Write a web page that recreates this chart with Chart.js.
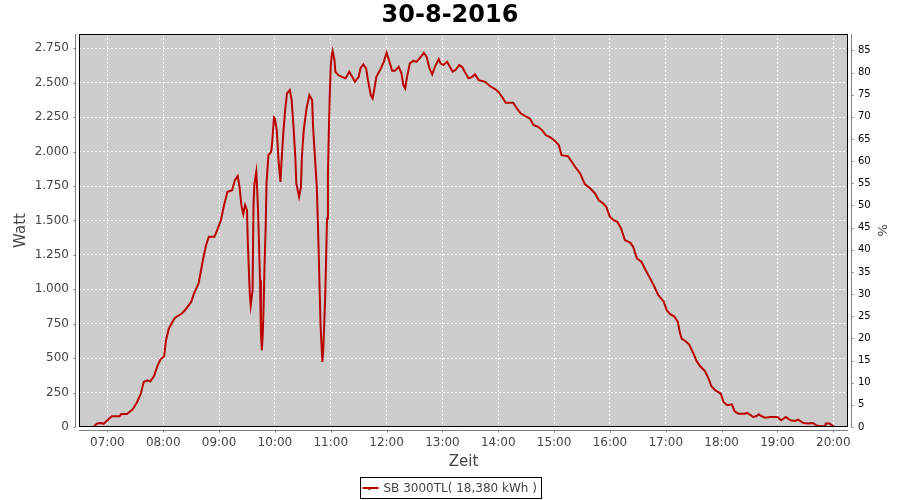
<!DOCTYPE html>
<html>
<head>
<meta charset="utf-8">
<title>30-8-2016</title>
<script src="https://cdn.jsdelivr.net/npm/chart.js@4.4.0/dist/chart.umd.min.js"></script>
<style>
  html, body { margin: 0; padding: 0; background: #fff; }
</style>
</head>
<body>
<canvas id="ertragChart" width="900" height="500"></canvas>
<script>
// Messwerte vom 30-8-2016 (Zeit / Leistung in Watt)
const zeiten = [
  '06:45','06:49','06:53','06:56','07:02','07:05','07:13','07:15','07:21','07:27',
  '07:32','07:36','07:39','07:43','07:46','07:50','07:54','07:57','08:01','08:03',
  '08:06','08:12','08:15','08:20','08:24','08:30','08:33','08:38','08:40','08:43',
  '08:46','08:49','08:55','08:58','09:02','09:05','09:09','09:14','09:17','09:20',
  '09:22','09:24','09:26','09:28','09:30','09:31','09:33','09:34','09:36','09:37',
  '09:38','09:40','09:41','09:42','09:44','09:45','09:46','09:47','09:48','09:49',
  '09:50','09:51','09:53','09:56','09:57','09:59','10:00','10:02','10:04','10:06',
  '10:07','10:09','10:11','10:13','10:16','10:18','10:20','10:22','10:23','10:26',
  '10:28','10:29','10:31','10:34','10:37','10:40','10:41','10:43','10:45','10:46',
  '10:47','10:48','10:49','10:50','10:51','10:52','10:53','10:54','10:55','10:56',
  '10:57','10:58','10:59','11:00','11:01','11:02','11:04','11:05','11:08','11:12',
  '11:16','11:20','11:23','11:26','11:30','11:32','11:35','11:38','11:40','11:43',
  '11:45','11:47','11:49','11:53','11:57','12:00','12:02','12:06','12:09','12:13',
  '12:16','12:18','12:20','12:22','12:25','12:29','12:32','12:37','12:40','12:43',
  '12:46','12:49','12:52','12:56','12:58','13:01','13:05','13:08','13:11','13:14',
  '13:18','13:21','13:25','13:28','13:32','13:35','13:39','13:46','13:51','13:57',
  '14:00','14:04','14:08','14:16','14:20','14:24','14:29','14:34','14:38','14:43',
  '14:47','14:51','14:56','15:00','15:05','15:08','15:15','15:19','15:23','15:28',
  '15:33','15:39','15:44','15:48','15:52','15:56','16:00','16:04','16:08','16:12',
  '16:16','16:22','16:25','16:29','16:34','16:38','16:42','16:47','16:52','16:58',
  '17:01','17:05','17:09','17:13','17:15','17:17','17:21','17:25','17:29','17:33',
  '17:37','17:42','17:46','17:49','17:54','17:59','18:02','18:06','18:11','18:14',
  '18:18','18:25','18:27','18:30','18:34','18:37','18:40','18:43','18:47','18:52',
  '19:00','19:04','19:09','19:14','19:19','19:22','19:28','19:33','19:38','19:42',
  '19:46','19:51','19:52','19:56','20:00','20:01'
];
const leistung = [
  0, 25, 29, 23, 61, 78, 78, 94, 94, 126,
  182, 243, 327, 339, 330, 368, 448, 490, 514, 630,
  715, 788, 804, 824, 853, 908, 969, 1042, 1115, 1224,
  1320, 1381, 1381, 1430, 1502, 1599, 1708, 1720, 1793, 1822,
  1744, 1611, 1546, 1611, 1575, 1320, 969, 884, 993, 1611,
  1769, 1853, 1720, 1551, 1066, 679, 557, 679, 908, 1211,
  1430, 1769, 1974, 1998, 2059, 2248, 2240, 2156, 1926, 1780,
  1914, 2132, 2301, 2423, 2447, 2374, 2180, 1950, 1769, 1671,
  1744, 1962, 2156, 2314, 2410, 2374, 2180, 1962, 1744, 1526,
  1284, 1017, 751, 606, 472, 557, 751, 945, 1211, 1514,
  1841, 2156, 2423, 2616, 2701, 2732, 2665, 2580, 2556, 2543,
  2532, 2580, 2543, 2507, 2543, 2605, 2633, 2605, 2519, 2410,
  2386, 2459, 2543, 2592, 2652, 2718, 2677, 2587, 2587, 2616,
  2568, 2483, 2459, 2543, 2641, 2660, 2652, 2689, 2718, 2689,
  2605, 2561, 2616, 2672, 2641, 2628, 2652, 2616, 2580, 2592,
  2628, 2616, 2568, 2532, 2543, 2561, 2519, 2507, 2476, 2452,
  2435, 2398, 2355, 2355, 2314, 2278, 2258, 2241, 2192, 2180,
  2156, 2120, 2103, 2083, 2047, 1974, 1967, 1926, 1885, 1841,
  1764, 1732, 1696, 1647, 1628, 1599, 1526, 1502, 1490, 1442,
  1357, 1337, 1308, 1224, 1199, 1144, 1095, 1030, 957, 908,
  848, 817, 804, 763, 690, 642, 625, 601, 545, 480,
  441, 407, 352, 296, 262, 243, 182, 158, 165, 114,
  97, 97, 102, 92, 73, 78, 92, 78, 68, 73,
  73, 49, 73, 49, 44, 54, 29, 25, 29, 12,
  5, 5, 25, 25, 5, 0
];
const stunden = [7, 8, 9, 10, 11, 12, 13, 14, 15, 16, 17, 18, 19, 20];
const serieName = 'SB 3000TL( 18,380 kWh )';

const FONT = 'DejaVu Sans';
const LINIE = '#bb0000';

// "HH:MM" -> Stunden als Dezimalzahl
function zuStunden(t) {
    const [h, m] = t.split(':').map(Number);
    return h + m / 60;
}

// Tausenderpunkt wie im Original (2.750)
function tausender(v) {
    return String(v).replace(/\B(?=(\d{3})+(?!\d))/g, '.');
}

// Hintergrund, Rahmen, versetzte Achsenlinien und Legende
const plotRahmen = {
    id: 'plotRahmen',
    beforeDraw(chart) {
        const { ctx, chartArea: a } = chart;
        ctx.save();
        ctx.fillStyle = '#cccccc';
        ctx.fillRect(a.left, a.top, a.right - a.left, a.bottom - a.top);
        ctx.restore();
    },
    afterDraw(chart) {
        const { ctx, chartArea: a, scales } = chart;
        ctx.save();

        ctx.strokeStyle = '#000';
        ctx.lineWidth = 1;
        ctx.strokeRect(a.left + 0.5, a.top + 0.5, a.right - a.left - 1, a.bottom - a.top - 1);

        // Achsenlinien mit kleinen Teilstrichen
        ctx.strokeStyle = '#808080';
        ctx.beginPath();
        const xl = a.left - 3.5;
        ctx.moveTo(xl, a.top); ctx.lineTo(xl, a.bottom);
        scales.y.ticks.forEach(t => {
            const py = Math.round(scales.y.getPixelForValue(t.value)) + 0.5;
            ctx.moveTo(xl - 2, py); ctx.lineTo(xl, py);
        });
        const xr = a.right + 3.5;
        ctx.moveTo(xr, a.top); ctx.lineTo(xr, a.bottom);
        scales.y1.ticks.forEach(t => {
            const py = Math.round(scales.y1.getPixelForValue(t.value)) + 0.5;
            ctx.moveTo(xr, py); ctx.lineTo(xr + 2, py);
        });
        const yb = a.bottom + 3.5;
        ctx.moveTo(a.left, yb); ctx.lineTo(a.right, yb);
        scales.x.ticks.forEach(t => {
            const px = Math.round(scales.x.getPixelForValue(t.value)) + 0.5;
            ctx.moveTo(px, yb); ctx.lineTo(px, yb + 2);
        });
        ctx.stroke();

        // Legende
        const ds = chart.data.datasets[0];
        ctx.font = '12px "' + FONT + '"';
        const tw = ctx.measureText(ds.label).width;
        const w = Math.round(2 + 16 + 5 + tw + 5);
        const x0 = Math.round(chart.width / 2 - w / 2) + 0.5;
        const y0 = 477.5;
        const h = 21;
        ctx.strokeStyle = '#000';
        ctx.strokeRect(x0, y0, w, h);
        ctx.strokeStyle = ds.borderColor;
        ctx.lineWidth = 2;
        ctx.beginPath();
        ctx.moveTo(x0 + 2, y0 + 10.5); ctx.lineTo(x0 + 18, y0 + 10.5);
        ctx.moveTo(x0 + 9, y0 + 10.5); ctx.lineTo(x0 + 9, y0 + 12.5);
        ctx.stroke();
        ctx.fillStyle = '#444';
        ctx.textBaseline = 'middle';
        ctx.textAlign = 'left';
        ctx.fillText(ds.label, x0 + 23, y0 + 11);
        ctx.restore();
    }
};

const ctx = document.getElementById('ertragChart').getContext('2d');

new Chart(ctx, {
    type: 'line',
    data: {
        datasets: [{
            label: serieName,
            data: zeiten.map((t, i) => ({ x: zuStunden(t), y: leistung[i] })),
            borderColor: LINIE,
            borderWidth: 2,
            pointRadius: 0,
            tension: 0,
            fill: false,
            yAxisID: 'y'
        }]
    },
    options: {
        responsive: false,
        animation: false,
        layout: {
            padding: { left: 0, right: 0, top: 0, bottom: 23 }
        },
        plugins: {
            legend: { display: false },
            tooltip: { enabled: false },
            title: {
                display: true,
                text: '30-8-2016',
                color: '#000',
                font: { family: FONT, size: 24, weight: 'bold' },
                padding: { top: 1.5, bottom: 3.7 }
            }
        },
        scales: {
            x: {
                type: 'linear',
                position: 'bottom',
                min: 6 + 29.5 / 60,
                max: 20 + 15.8 / 60,
                afterBuildTicks: scale => {
                    scale.ticks = stunden.map(v => ({ value: v }));
                },
                afterFit: scale => { scale.height = 50; },
                grid: { color: '#ffffff', drawTicks: false },
                border: { display: false, dash: [2, 2] },
                ticks: {
                    padding: 9,
                    color: '#444',
                    font: { family: FONT, size: 12 },
                    maxRotation: 0,
                    callback: v => String(v).padStart(2, '0') + ':00'
                },
                title: {
                    display: true,
                    text: 'Zeit',
                    color: '#444',
                    font: { family: FONT, size: 15 },
                    padding: { top: 0, bottom: 6 }
                }
            },
            y: {
                position: 'left',
                min: 0,
                max: 2854,
                afterFit: scale => { scale.width = 79; },
                grid: { color: '#ffffff', drawTicks: false },
                border: { display: false, dash: [2, 2] },
                ticks: {
                    stepSize: 250,
                    includeBounds: false,
                    padding: 10,
                    color: '#444',
                    font: { family: FONT, size: 12 },
                    callback: v => tausender(v)
                },
                title: {
                    display: true,
                    text: 'Watt',
                    color: '#444',
                    font: { family: FONT, size: 15 },
                    padding: { top: 12, bottom: 0 }
                }
            },
            y1: {
                position: 'right',
                min: 0,
                max: 88.7,
                afterFit: scale => { scale.width = 52; },
                grid: { display: false, drawTicks: false },
                border: { display: false },
                ticks: {
                    stepSize: 5,
                    includeBounds: false,
                    padding: 10,
                    color: '#000',
                    font: { family: FONT, size: 10 }
                },
                title: {
                    display: true,
                    text: '%',
                    color: '#444',
                    font: { family: FONT, size: 13 },
                    padding: { top: 11, bottom: 0 }
                }
            }
        }
    },
    plugins: [plotRahmen]
});
</script>
</body>
</html>
